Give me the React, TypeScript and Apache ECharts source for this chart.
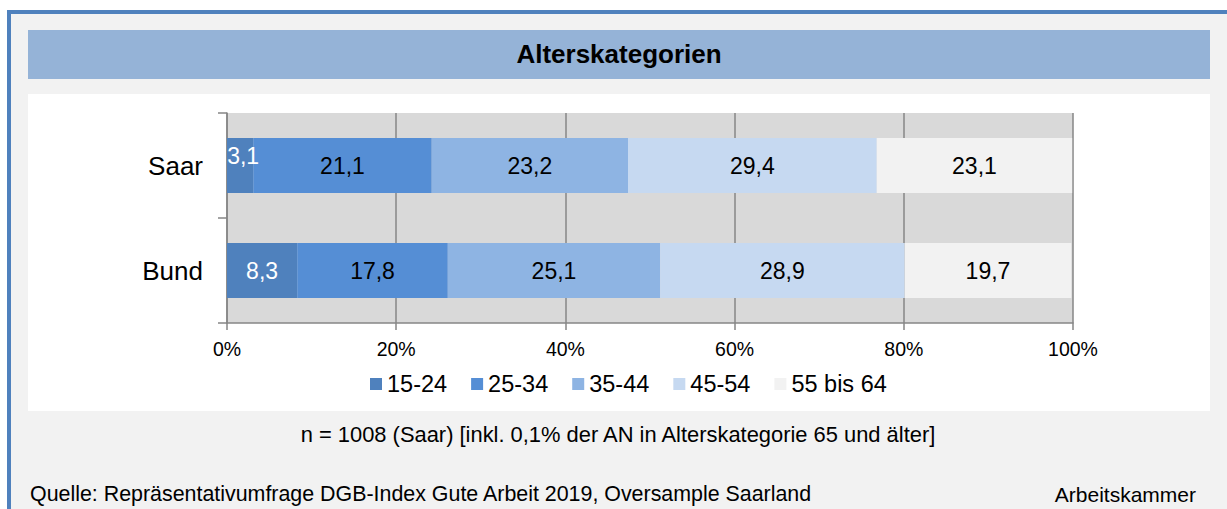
import React, { useEffect, useRef } from "react";
import * as echarts from "echarts";

const categories = ["Saar", "Bund"];
const seriesNames = ["15-24", "25-34", "35-44", "45-54", "55 bis 64"];
const values15_24 = [3.1, 8.3];
const values25_34 = [21.1, 17.8];
const values35_44 = [23.2, 25.1];
const values45_54 = [29.4, 28.9];
const values55_64 = [23.1, 19.7];
const seriesValues = [values15_24, values25_34, values35_44, values45_54, values55_64];
const seriesColors = ["#4f81bd", "#558ed5", "#8eb4e3", "#c6d9f1", "#f2f2f2"];
const labelColors = ["#ffffff", "#000000", "#000000", "#000000", "#000000"];

const titleText = "Alterskategorien";
const noteText = "n = 1008 (Saar) [inkl. 0,1% der AN in Alterskategorie 65 und älter]";
const sourceText = "Quelle: Repräsentativumfrage DGB-Index Gute Arbeit 2019, Oversample Saarland";
const creditText = "Arbeitskammer";

const FONT = "'Liberation Sans', Arial, sans-serif";

export default function App() {
  const ref = useRef<HTMLDivElement>(null);
  useEffect(() => {
    if (!ref.current) return;
    const chart = echarts.init(ref.current, undefined, { renderer: "svg" });
    const fmt = (v: number) => v.toFixed(1).replace(".", ",");
    const series = seriesNames.map((name, i) => ({
      name,
      type: "bar",
      stack: "total",
      barWidth: 55,
      itemStyle: { color: seriesColors[i] },
      label: {
        show: true,
        position: "inside",
        color: labelColors[i],
        fontSize: 23,
        fontFamily: FONT,
        formatter: (p: any) => fmt(Number(p.value)),
      },
      data: seriesValues[i].map((v, j) =>
        i === 0 && j === 0 ? { value: v, label: { offset: [3, -10] } } : v
      ),
    }));
    chart.setOption({
      animation: false,
      textStyle: { fontFamily: FONT },
      graphic: [
        { type: "rect", z: -100, shape: { x: 0, y: 0, width: 1227, height: 509 }, style: { fill: "#ffffff" } },
        { type: "rect", z: -99, shape: { x: 7, y: 10, width: 1240, height: 520 }, style: { fill: "#f2f2f2" } },
        { type: "rect", z: -98, shape: { x: 7, y: 10, width: 4, height: 520 }, style: { fill: "#4f81bd" } },
        { type: "rect", z: -98, shape: { x: 7, y: 10, width: 1240, height: 4 }, style: { fill: "#4f81bd" } },
        { type: "rect", z: -97, shape: { x: 28, y: 30, width: 1182, height: 49 }, style: { fill: "#95b3d7" } },
        { type: "rect", z: -97, shape: { x: 28, y: 94, width: 1182, height: 317 }, style: { fill: "#ffffff" } },
        {
          type: "text", z: 10, x: 619, y: 54,
          style: { text: titleText, fill: "#000", font: `bold 26px ${FONT}`, textAlign: "center", textVerticalAlign: "middle" },
        },
        {
          type: "text", z: 10, x: 618, y: 434,
          style: { text: noteText, fill: "#000", font: `21.9px ${FONT}`, textAlign: "center", textVerticalAlign: "middle" },
        },
        {
          type: "text", z: 10, x: 30, y: 494,
          style: { text: sourceText, fill: "#000", font: `21.4px ${FONT}`, textAlign: "left", textVerticalAlign: "middle" },
        },
        {
          type: "text", z: 10, x: 1196, y: 494,
          style: { text: creditText, fill: "#000", font: `21px ${FONT}`, textAlign: "right", textVerticalAlign: "middle" },
        },
      ],
      grid: {
        left: 227, top: 113, right: 154, bottom: 186,
        show: true, backgroundColor: "#d9d9d9", borderWidth: 0,
        containLabel: false,
      },
      legend: {
        data: seriesNames,
        left: 370,
        top: 372,
        padding: 0,
        icon: "rect",
        itemWidth: 12,
        itemHeight: 12,
        itemGap: 24,
        textStyle: { fontSize: 23.5, color: "#000", fontFamily: FONT },
      },
      xAxis: {
        type: "value",
        min: 0,
        max: 100,
        interval: 20,
        axisLine: { show: true, lineStyle: { color: "#868686", width: 1.5 } },
        axisTick: { show: true, length: 7, lineStyle: { color: "#868686", width: 1.5 } },
        splitLine: { show: true, lineStyle: { color: "#868686", width: 1.5 } },
        axisLabel: { fontSize: 19.5, color: "#000", margin: 16, formatter: "{value}%" },
      },
      yAxis: {
        type: "category",
        data: categories,
        inverse: true,
        axisLine: { show: true, lineStyle: { color: "#868686", width: 1.5 } },
        axisTick: { show: true, length: 9, lineStyle: { color: "#868686", width: 1.5 } },
        axisLabel: { fontSize: 26, color: "#000", margin: 24 },
      },
      series,
    });
    return () => chart.dispose();
  }, []);
  return <div ref={ref} style={{ position: "absolute", left: 0, top: 0, width: 1227, height: 509 }} />;
}
